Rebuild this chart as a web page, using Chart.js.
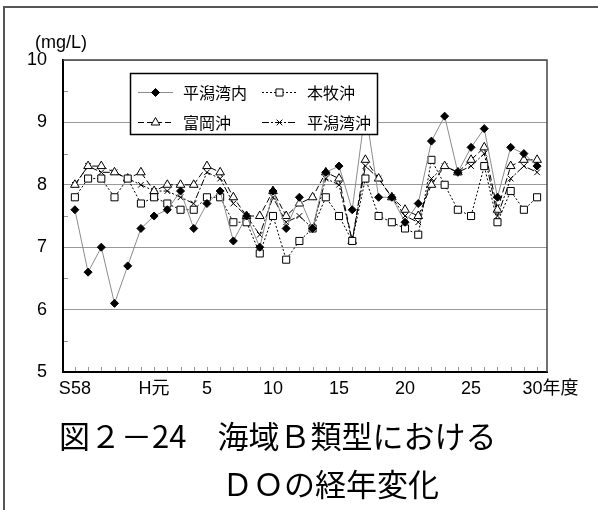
<!DOCTYPE html>
<html lang="ja">
<head>
<meta charset="UTF-8">
<title>海域B類型におけるDOの経年変化</title>
<script src="https://cdn.jsdelivr.net/npm/chart.js"></script>
<style>
  body { margin: 0; background: #fff; }
  #wrap { position: relative; width: 598px; height: 510px; overflow: hidden; }
  #frame { position: absolute; left: 3px; top: 6px; width: 640px; height: 560px;
           border-left: 2px solid #555; border-top: 2px solid #555; }
  canvas { position: absolute; left: 0; top: 0; }
  .unit { position: absolute; left: 35px; top: 33px; font: 18px "Liberation Sans", sans-serif; line-height: 1; }
  .cap { position: absolute; font: 31px "Noto Sans CJK JP", sans-serif; white-space: pre; line-height: 1; }
</style>
</head>
<body>
<div id="wrap">
  <div id="frame"></div>
  <canvas id="doChart" width="598" height="510"></canvas>
  <div class="unit">(mg/L)</div>
  <div class="cap" style="left:59px; top:419px;">図２－24　海域Ｂ類型における</div>
  <div class="cap" style="left:222px; top:467px;">ＤＯの経年変化</div>
</div>
<script>
// 年度 S58 ～ H30
const years = ['S58','S59','S60','S61','S62','S63','H元','H2','H3','H4','H5','H6','H7','H8','H9','H10','H11','H12',
               'H13','H14','H15','H16','H17','H18','H19','H20','H21','H22','H23','H24','H25','H26','H27','H28','H29','H30'];
const tickIndex = [0, 6, 10, 15, 20, 25, 30, 35];
const tickText = ['S58', 'H元', '5', '10', '15', '20', '25', '\u2002\u2002\u200230年度'];

const seriesNames = ['平潟湾内', '本牧沖', '富岡沖', '平潟湾沖'];
const hiragataWannai = [7.6, 6.6, 7.0, 6.1, 6.7, 7.3, 7.5, 7.6, 7.9, 7.3, 7.7, 7.9, 7.1, 7.5, 7.0, 7.9, 7.3, 7.8,
                        7.3, 8.2, 8.3, 7.6, 9.2, 7.8, 7.8, 7.4, 7.7, 8.7, 9.1, 8.2, 8.6, 8.9, 7.8, 8.6, 8.5, 8.3];
const honmokuOki = [7.8, 8.1, 8.1, 7.8, 8.1, 7.7, 7.8, 7.7, 7.6, 7.6, 7.8, 7.8, 7.4, 7.4, 6.9, 7.5, 6.8, 7.1,
                    7.3, 7.8, 7.5, 7.1, 8.1, 7.5, 7.4, 7.3, 7.2, 8.4, 8.0, 7.6, 7.5, 8.3, 7.4, 7.9, 7.6, 7.8];
const tomiokaOki = [8.0, 8.3, 8.3, 8.2, 8.1, 8.2, 7.9, 8.0, 8.0, 8.0, 8.3, 8.2, 7.8, 7.5, 7.5, 7.9, 7.5, 7.7,
                    7.8, 8.2, 8.1, 7.1, 8.4, 8.1, 7.8, 7.6, 7.5, 8.0, 8.3, 8.2, 8.4, 8.6, 7.6, 8.3, 8.4, 8.4];
const hiragataOki = [8.0, 8.3, 8.2, 8.2, 8.1, 8.0, 7.9, 7.9, 7.8, 7.7, 8.2, 8.1, 7.7, 7.5, 7.2, 7.8, 7.4, 7.5,
                     7.3, 8.1, 8.0, 7.1, 8.3, 8.1, 7.8, 7.5, 7.4, 8.1, 8.3, 8.2, 8.3, 8.5, 7.5, 8.1, 8.3, 8.2];

const toPoints = arr => arr.map((v, i) => ({ x: i, y: v }));

const datasets = [
  { label: seriesNames[0], data: toPoints(hiragataWannai), borderColor: '#8c8c8c', borderWidth: 1,
    pointStyle: 'rectRot', pointRadius: 4, pointBackgroundColor: '#000', pointBorderColor: '#000', pointBorderWidth: 1 },
  { label: seriesNames[1], data: toPoints(honmokuOki), borderColor: '#000', borderWidth: 1, borderDash: [2, 2],
    pointStyle: 'rect', pointRadius: 5, pointBackgroundColor: '#fff', pointBorderColor: '#000', pointBorderWidth: 1 },
  { label: seriesNames[2], data: toPoints(tomiokaOki), borderColor: '#000', borderWidth: 1, borderDash: [6, 3],
    pointStyle: 'triangle', pointRadius: 5, pointBackgroundColor: '#fff', pointBorderColor: '#000', pointBorderWidth: 1 },
  { label: seriesNames[3], data: toPoints(hiragataOki), borderColor: '#000', borderWidth: 1, borderDash: [7, 2, 2, 2],
    pointStyle: 'crossRot', pointRadius: 4, pointBackgroundColor: '#000', pointBorderColor: '#000', pointBorderWidth: 1 }
];

const tickFont = { family: '"Liberation Sans Narrow", "Liberation Sans", "Noto Sans CJK JP", sans-serif', size: 18 };

// 目盛り・枠・凡例
const decor = {
  id: 'decor',
  beforeDatasetsDraw(chart) {
    const { ctx, chartArea: a, scales } = chart;
    ctx.save();
    ctx.strokeStyle = '#444';
    ctx.lineWidth = 1.5;
    ctx.beginPath();
    ctx.moveTo(a.left, a.top); ctx.lineTo(a.right, a.top); ctx.lineTo(a.right, a.bottom);
    ctx.stroke();
    ctx.strokeStyle = '#999';
    ctx.lineWidth = 1;
    ctx.beginPath();
    years.forEach((y, i) => {
      const px = Math.round(scales.x.getPixelForValue(i)) + 0.5;
      ctx.moveTo(px, a.bottom - 1); ctx.lineTo(px, a.bottom - 5);
    });
    for (let v = 5.5; v < 10; v += 1) {
      const py = Math.round(scales.y.getPixelForValue(v)) + 0.5;
      ctx.moveTo(a.left + 1, py); ctx.lineTo(a.left + 5, py);
    }
    ctx.stroke();
    ctx.restore();
  },
  afterDatasetsDraw(chart) {
    const { ctx } = chart;
    ctx.save();
    ctx.fillStyle = '#fff';
    ctx.fillRect(130, 73, 248, 62);
    ctx.strokeStyle = '#000';
    ctx.lineWidth = 1.5;
    ctx.strokeRect(130.5, 73.5, 247, 61);
    const pos = [[138, 92], [262, 92], [138, 122], [262, 122]];
    chart.data.datasets.forEach((ds, k) => {
      const [x0, y0] = pos[k];
      ctx.strokeStyle = ds.borderColor;
      ctx.lineWidth = ds.borderWidth;
      ctx.setLineDash(ds.borderDash || []);
      ctx.beginPath();
      ctx.moveTo(x0, y0 + 0.5); ctx.lineTo(x0 + 35, y0 + 0.5);
      ctx.stroke();
      ctx.setLineDash([]);
      ctx.fillStyle = ds.pointBackgroundColor;
      ctx.strokeStyle = ds.pointBorderColor;
      ctx.lineWidth = 1;
      Chart.helpers.drawPoint(ctx, { pointStyle: ds.pointStyle, radius: ds.pointRadius, rotation: 0, borderWidth: 1 },
                              x0 + 17.5, y0 + 0.5);
      ctx.fillStyle = '#000';
      ctx.font = '16px "Noto Sans CJK JP", sans-serif';
      ctx.textBaseline = 'middle';
      ctx.fillText(ds.label, x0 + 45, y0 + 1);
    });
    ctx.restore();
  }
};

new Chart(document.getElementById('doChart'), {
  type: 'line',
  data: { datasets: datasets },
  options: {
    responsive: false,
    animation: false,
    devicePixelRatio: 1,
    layout: { padding: { left: 0, top: 60, right: 51, bottom: 108 } },
    plugins: { legend: { display: false }, tooltip: { enabled: false } },
    scales: {
      x: {
        type: 'linear', min: -0.9, max: 35.75,
        afterFit(s) { s.height = 30; },
        afterBuildTicks(s) { s.ticks = tickIndex.map(v => ({ value: v })); },
        ticks: {
          autoSkip: false, maxRotation: 0, padding: 6, color: '#000', font: tickFont,
          callback: v => tickText[tickIndex.indexOf(v)]
        },
        grid: { display: false, drawTicks: false },
        border: { color: '#000', width: 2 }
      },
      y: {
        min: 5, max: 10,
        afterFit(s) { s.width = 63; },
        ticks: { stepSize: 1, padding: 16, color: '#000', font: tickFont },
        grid: { color: '#999', drawTicks: false },
        border: { color: '#000', width: 2 }
      }
    }
  },
  plugins: [decor]
});
</script>
</body>
</html>
